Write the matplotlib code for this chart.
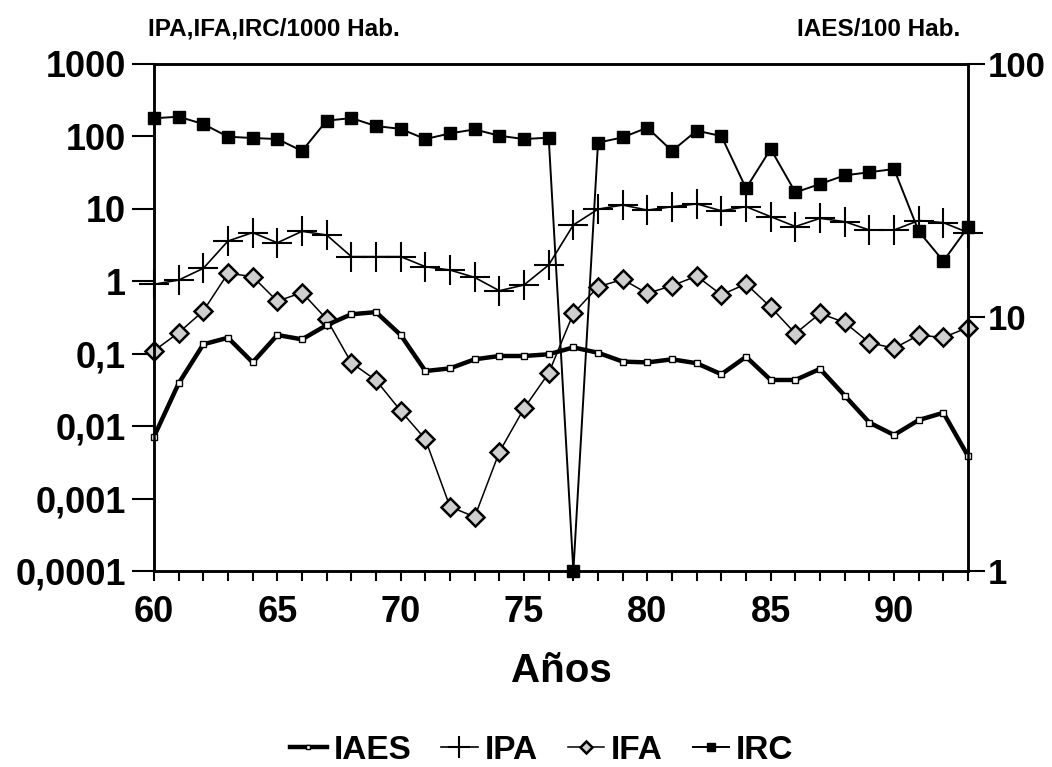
import matplotlib.pyplot as plt
from matplotlib.ticker import FixedLocator, NullLocator

plt.rcParams['font.family'] = ['Liberation Sans', 'DejaVu Sans']
plt.rcParams['font.weight'] = 'bold'

years = list(range(60, 94))
# left axis (per 1000 hab.)
irc = [178, 187, 148, 99, 95, 92, 63, 165, 179, 139, 127, 92,
       110, 125, 102, 92, 96, 0.0001, 82, 97, 132, 63, 120, 101,
       19.2, 67, 16.9, 22, 29, 32, 35.5, 4.9, 1.9, 5.6]
ipa = [0.91, 1.04, 1.51, 3.6, 4.7, 3.4, 4.9, 4.35, 2.19, 2.19, 2.19, 1.59,
       1.43, 1.13, 0.74, 0.89, 1.68, 6.0, 9.9, 11.3, 9.6, 10.7, 11.7, 9.4,
       10.7, 7.8, 5.7, 7.4, 6.65, 5.1, 5.1, 6.9, 6.45, 4.7]
ifa = [0.110, 0.195, 0.39, 1.29, 1.16, 0.53, 0.70, 0.30, 0.075, 0.043, 0.0163, 0.0066,
       0.00077, 0.00056, 0.0044, 0.0176, 0.054, 0.36, 0.84, 1.06, 0.68, 0.87, 1.18, 0.65,
       0.92, 0.44, 0.19, 0.36, 0.27, 0.142, 0.119, 0.18, 0.168, 0.23]
# right axis (per 100 hab.)
iaes = [3.39, 5.5, 7.84, 8.32, 6.65, 8.53, 8.2, 9.33, 10.3, 10.5, 8.53, 6.15,
        6.3, 6.84, 7.05, 7.05, 7.16, 7.62, 7.26, 6.7, 6.65, 6.84, 6.6, 5.97,
        7.0, 5.67, 5.67, 6.27, 4.92, 3.85, 3.44, 3.94, 4.21, 2.84]

left_ticks = [0.0001, 0.001, 0.01, 0.1, 1, 10, 100, 1000]
left_labels = ["0,0001", "0,001", "0,01", "0,1", "1", "10", "100", "1000"]
right_ticks = [1, 10, 100]
right_labels = ["1", "10", "100"]
x_labels = [60, 65, 70, 75, 80, 85, 90]

fig = plt.figure(figsize=(10.52, 7.67), dpi=100)
ax = fig.add_axes([0.1464, 0.2555, 0.9202 - 0.1464, 0.9166 - 0.2555])
ax2 = ax.twinx()

l_ipa, = ax.plot(years, ipa, color='black', lw=1.2, marker='+', ms=22, mew=1.5,
                 clip_on=False, label='IPA')
l_ifa, = ax.plot(years, ifa, color='black', lw=1.1, marker='D', ms=9, mew=1.8,
                 mfc='#cfcfcf', mec='black', clip_on=False, label='IFA')
l_irc, = ax.plot(years, irc, color='black', lw=1.4, marker='s', ms=9,
                 clip_on=False, label='IRC')
l_iaes, = ax2.plot(years, iaes, color='black', lw=3.2, marker='s', ms=4,
                   mfc='white', mec='black', mew=1, clip_on=False, label='IAES')

ax.set_yscale('log')
ax.set_ylim(0.0001, 1000)
ax.set_xlim(60, 93)
ax2.set_yscale('log')
ax2.set_ylim(1, 100)

ax.yaxis.set_major_locator(FixedLocator(left_ticks))
ax.set_yticklabels(left_labels)
ax.yaxis.set_minor_locator(NullLocator())
ax2.yaxis.set_major_locator(FixedLocator(right_ticks))
ax2.set_yticklabels(right_labels)
ax2.yaxis.set_minor_locator(NullLocator())

ax.set_xticks(years, minor=True)
ax.set_xticks(x_labels)
ax.set_xticklabels([str(v) for v in x_labels])

ax.tick_params(axis='y', which='major', direction='out', length=16, width=1.5,
               labelsize=26, pad=4)
ax2.tick_params(axis='y', which='major', direction='out', length=12, width=1.5,
                labelsize=25, pad=2)
ax.tick_params(axis='x', which='major', direction='out', length=7, width=1.5,
               labelsize=26, pad=10)
ax.tick_params(axis='x', which='minor', direction='out', length=7, width=1.5)

for a in (ax, ax2):
    for s in a.spines.values():
        s.set_linewidth(1.8)

ax.set_xlabel("Años", fontsize=29, fontweight='bold', labelpad=16)

fig.text(0.141, 0.962, "IPA,IFA,IRC/1000 Hab.", fontsize=17.5, fontweight='bold',
         ha='left', va='center')
fig.text(0.913, 0.962, "IAES/100 Hab.", fontsize=17.5, fontweight='bold',
         ha='right', va='center')

fig.legend(handles=[l_iaes, l_ipa, l_ifa, l_irc], loc='center',
           bbox_to_anchor=(0.515, 0.022), ncol=4, frameon=False, fontsize=24,
           handlelength=1.1, handletextpad=0.2, columnspacing=0.9, markerscale=0.7)

fig.savefig("out.png", dpi=100)
